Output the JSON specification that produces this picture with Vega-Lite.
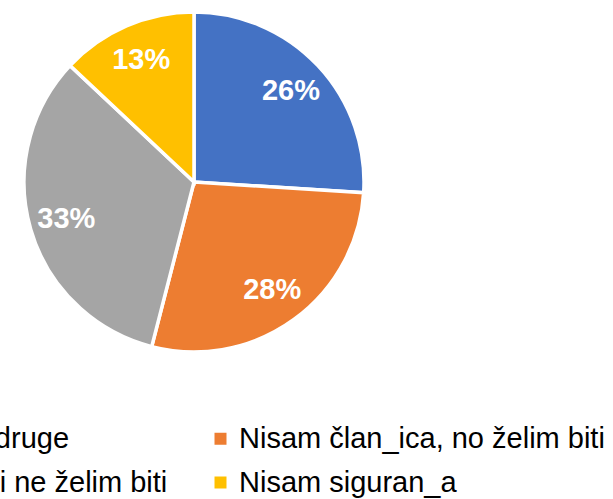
{
  "$schema": "https://vega.github.io/schema/vega-lite/v6.json",
  "autosize": {"type": "none"},
  "width": 388,
  "height": 364,
  "padding": {"left": 0, "top": 0, "right": 225, "bottom": 135},
  "background": "white",
  "config": {"view": {"stroke": null}, "font": "Liberation Sans"},
  "data": {
    "values": [
      {"category": "Član_ica sam udruge", "share": 0.26, "rank": 1},
      {"category": "Nisam član_ica, no želim biti", "share": 0.28, "rank": 2},
      {"category": "Nisam član_ica i ne želim biti", "share": 0.33, "rank": 3},
      {"category": "Nisam siguran_a", "share": 0.13, "rank": 4}
    ]
  },
  "encoding": {
    "theta": {"field": "share", "type": "quantitative", "stack": true},
    "order": {"field": "rank", "type": "quantitative"},
    "color": {
      "field": "category",
      "type": "nominal",
      "sort": null,
      "scale": {
        "domain": ["Član_ica sam udruge", "Nisam član_ica i ne želim biti", "Nisam član_ica, no želim biti", "Nisam siguran_a"],
        "range": ["#4472C4", "#A5A5A5", "#ED7D31", "#FFC000"]
      },
      "legend": {
        "orient": "none",
        "legendX": -238,
        "legendY": 424,
        "columns": 2,
        "title": null,
        "symbolType": "square",
        "symbolSize": 144,
        "symbolStrokeWidth": 0,
        "labelFontSize": 29,
        "labelFont": "Liberation Sans",
        "labelColor": "#000000",
        "labelLimit": 1000,
        "labelOffset": 4,
        "columnPadding": 38,
        "rowPadding": 14
      }
    }
  },
  "layer": [
    {"mark": {"type": "arc", "outerRadius": 170, "stroke": "white", "strokeWidth": 3.5}},
    {
      "mark": {"type": "text", "radius": 133, "fontSize": 29, "fontWeight": "bold", "fill": "white", "align": "center", "baseline": "middle"},
      "encoding": {"text": {"field": "share", "type": "quantitative", "format": ".0%"}}
    }
  ]
}
